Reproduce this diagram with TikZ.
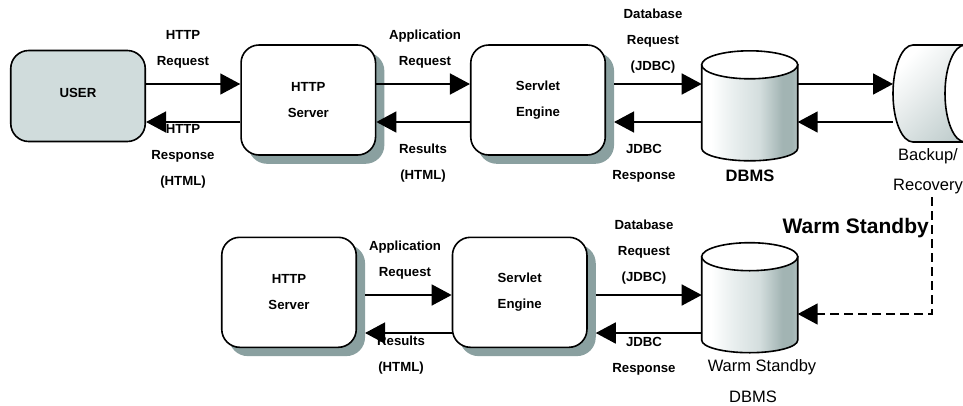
\documentclass[tikz,border=0pt]{standalone}
\usepackage{fontspec}
\setmainfont{Liberation Sans}
\usetikzlibrary{calc}
\usetikzlibrary{arrows.meta}
\definecolor{userfill}{HTML}{D0DCDC}
\definecolor{shadowgrey}{HTML}{8AA0A0}
\definecolor{cyla}{HTML}{E8EEEE}
\definecolor{cylb}{HTML}{D4DEDE}
\definecolor{cylc}{HTML}{A2B4B3}
\definecolor{cyld}{HTML}{B4C2C2}
\definecolor{tapedark}{HTML}{BCCACA}
\pgfdeclarehorizontalshading{cylshade}{100bp}{
    color(0bp)=(white); color(30bp)=(white); color(42bp)=(cyla);
    color(55bp)=(cylb); color(67bp)=(cylc); color(72bp)=(cylc); color(75bp)=(cyld); color(100bp)=(cyld)}
\tikzset{
    lbl/.style={align=center, yshift=-1.5pt, font=\bfseries\fontsize{13.2}{26}\selectfont},
    plainlbl/.style={inner sep=0pt, font=\fontsize{16.5}{20}\selectfont},
    box/.style={draw, line width=1.6pt, rounded corners=18pt, fill=white, minimum width=134.5pt, minimum height=110pt, align=center, font=\bfseries\fontsize{13.2}{26}\selectfont, execute at begin node={\rule{0pt}{12pt}}},
    shadowbox/.style={box, preaction={fill=shadowgrey, draw=shadowgrey, transform canvas={shift={(8pt,-8pt)}}}},
    cylbox/.style={inner sep=0pt, outer sep=0pt, minimum width=96pt, minimum height=110pt},
    tapebox/.style={inner sep=0pt, outer sep=0pt, minimum width=96pt, minimum height=97pt},
    link/.style={draw, line width=1.6pt, -{Triangle[length=20pt,width=21pt]}}
}
\begin{document}
\begin{tikzpicture}[x=1pt, y=-1pt]
    \clip (0,0) rectangle (963,405);

    % top row
    \node[box, fill=userfill, minimum height=91pt] (user) at (78,96) {\raisebox{5.5pt}{USER}};
    \node[shadowbox] (http) at (308.3,100) {HTTP\\Server};
    \node[shadowbox] (servlet) at (538,100) {Servlet\\Engine};
    \node[cylbox] (dbms) at (749.7,105.8) {};
    \node[tapebox] (backup) at (941,93.5) {};

    % bottom row
    \node[shadowbox] (http2) at (289,292.3) {HTTP\\Server};
    \node[shadowbox] (servlet2) at (519.7,292.3) {Servlet\\Engine};
    \node[cylbox] (standby) at (749.7,297.7) {};

    \foreach \cyl in {dbms,standby} {
        \draw[line width=1.6pt, shading=cylshade] ([yshift=-14pt]\cyl.north west) -- ([yshift=12.5pt]\cyl.south west) arc (180:360:48pt and 12.5pt) -- ([yshift=-14pt]\cyl.north east) -- cycle;
        \draw[line width=1.6pt, fill=white] ([yshift=-14pt]\cyl.north) ellipse (48pt and 14pt);
    }

    \draw[line width=1.6pt, left color=white, right color=tapedark, shading angle=45] ([xshift=20pt]backup.north west) arc (90:270:20pt and 48.5pt) -- (backup.south east) -- (backup.north east) -- cycle;
    \draw[line width=1.6pt, fill=white] ([xshift=-24pt]backup.east) ellipse (20pt and 48.5pt);

    % labels
    \node[lbl] (l1) at (183,48) {HTTP\\Request};
    \node[lbl] (l2) at (183,155) {HTTP\\Response\\(HTML)};
    \node[lbl] (l3) at (425,48) {Application\\Request};
    \node[lbl] (l4) at (423,162) {Results\\(HTML)};
    \node[lbl] (l5) at (653,40) {Database\\Request\\(JDBC)};
    \node[lbl] (l6) at (644,162) {JDBC\\Response};
    \node[lbl] (l7) at (405,259) {Application\\Request};
    \node[lbl] (l8) at (401,354) {Results\\(HTML)};
    \node[lbl] (l9) at (644,251) {Database\\Request\\(JDBC)};
    \node[lbl] (l10) at (644,354.5) {JDBC\\Response};
    \node[font=\bfseries\fontsize{16.5}{20}\selectfont] (l11) at (750,175.5) {DBMS};
    \node[plainlbl] (l12) at (928,156) {Backup/};
    \node[plainlbl] (l13) at (928,186.5) {Recovery};
    \node[font=\bfseries\fontsize{21}{24}\selectfont, anchor=east, inner sep=0pt] (l14) at (929,228) {Warm Standby};
    \node[plainlbl] (l15) at (762,367.5) {Warm Standby};
    \node[plainlbl] (l16) at (753,397) {DBMS};

    % top row connectors
    \path[link] (user.east |- 0,84) -- (http.west |- 0,84);
    \path[link] (http.west |- 0,122) -- (user.east |- 0,122);
    \path[link] (http.east |- 0,84) -- (servlet.west |- 0,84);
    \path[link] (servlet.west |- 0,122) -- (http.east |- 0,122);
    \path[link] ([xshift=8pt]servlet.east |- 0,84) -- (dbms.west |- 0,84);
    \path[link] (dbms.west |- 0,122) -- ([xshift=8pt]servlet.east |- 0,122);
    \path[link] (dbms.east |- 0,84) -- (backup.west |- 0,84);
    \path[link] (backup.west |- 0,122) -- (dbms.east |- 0,122);

    % bottom row connectors
    \path[link] ([xshift=8pt]http2.east |- 0,295) -- (servlet2.west |- 0,295);
    \path[link] (servlet2.west |- 0,333) -- ([xshift=8pt]http2.east |- 0,333);
    \path[link] ([xshift=8pt]servlet2.east |- 0,295) -- (standby.west |- 0,295);
    \path[link] (standby.west |- 0,333) -- ([xshift=8pt]servlet2.east |- 0,333);

    % warm standby link
    \coordinate (tapeout) at (932,197);
    \path[link, dash pattern=on 9pt off 5pt] (tapeout) |- (standby.east |- 0,314);
\end{tikzpicture}
\end{document}
